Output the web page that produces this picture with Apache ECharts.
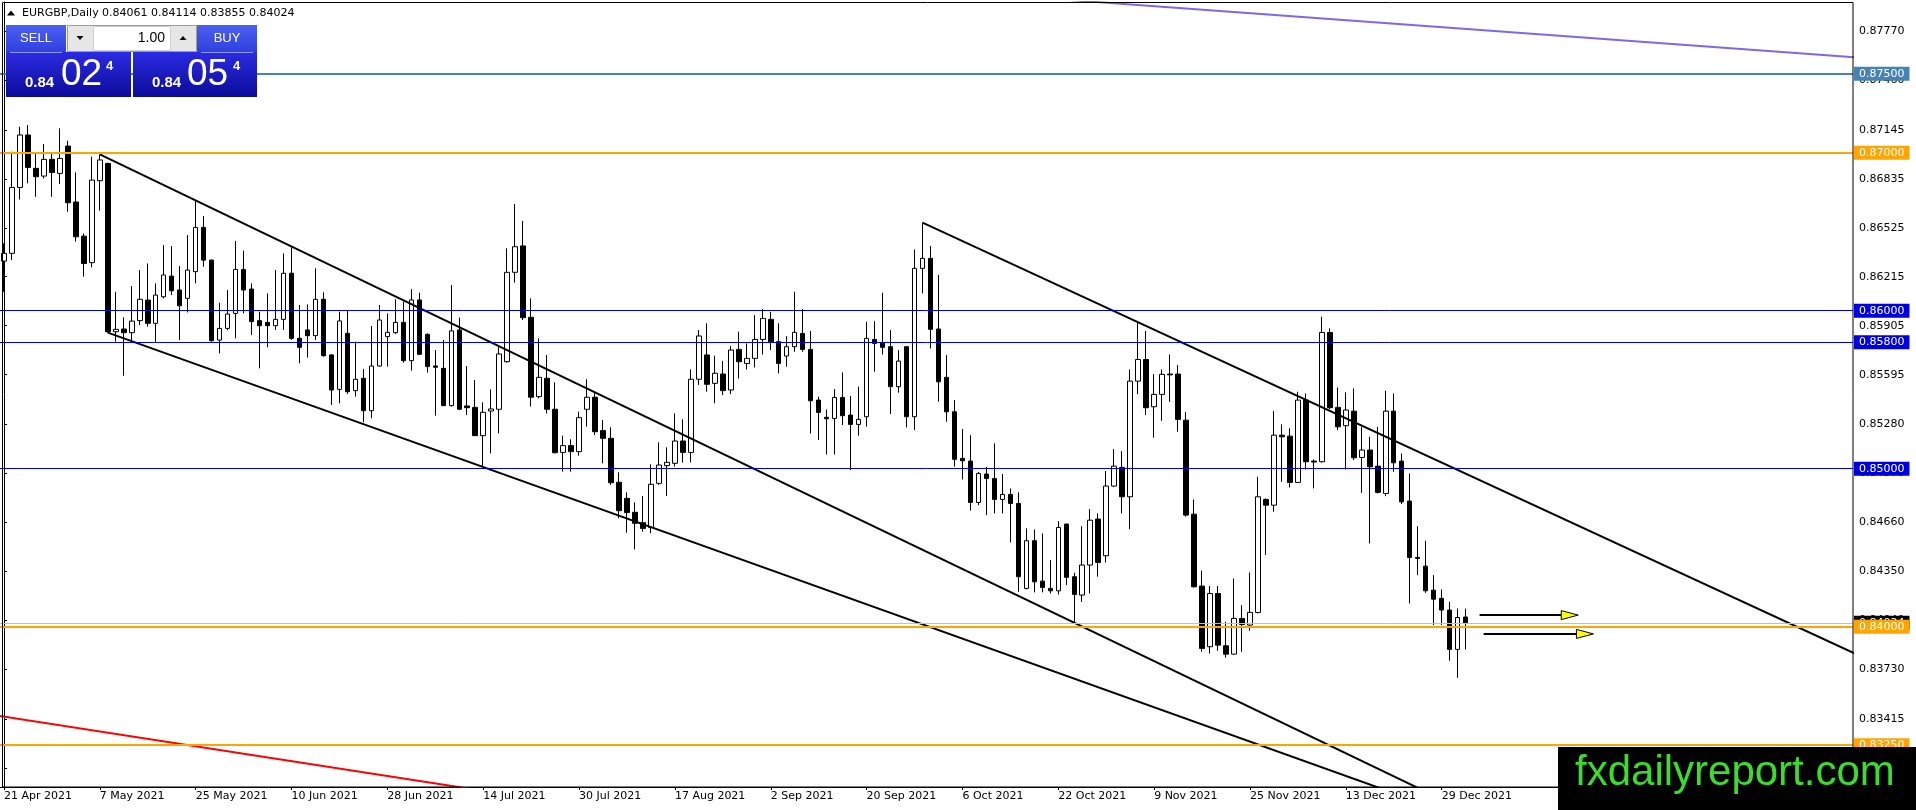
<!DOCTYPE html>
<html><head><meta charset="utf-8">
<script src="https://cdn.jsdelivr.net/npm/echarts@6/dist/echarts.min.js"></script>
<style>html,body{margin:0;padding:0;background:#fff;overflow:hidden}#c{width:1916px;height:810px}</style>
</head><body><div id="c"></div>
<script>
// ---------- DATA ----------
const symbolName = 'EURGBP,Daily';
const headerOHLC = ['0.84061', '0.84114', '0.83855', '0.84024'];
const firstBarDate = '2021-04-21';
const slotCount = 232;          // bars + empty space on the right (chart shift)
const labelEvery = 12;

const opens = [
.86314,.86363,.86780,.87112,.86901,.86852,.86958,.86869,.87042,.86688,.86472,.86304,.86823,.86932,.85867,.85884,.85861,.85937,.86067,.85920,
.86088,.86219,.86131,.86078,.86247,.86527,.86320,.85814,.85888,.85983,.86261,.86137,.85937,.85926,.85905,.85945,.86237,.85825,.85878,.85842,
.86072,.85720,.85502,.85857,.85494,.85572,.85367,.85650,.85836,.85861,.85926,.85684,.86068,.85850,.85650,.85635,.85399,.85878,.85397,.85388,
.85209,.85365,.85376,.85677,.86243,.86410,.85958,.85456,.85572,.85376,.85103,.85146,.85108,.85376,.85452,.85241,.85192,.84914,.84812,.84724,
.84658,.84627,.84907,.85019,.85034,.85175,.85103,.85566,.85720,.85540,.85599,.85498,.85755,.85666,.85698,.85818,.85945,.85804,.85713,.85772,
.85856,.85755,.85434,.85325,.85318,.85451,.85339,.85280,.85329,.85818,.85797,.85772,.85519,.85772,.85329,.86268,.86331,.85884,.85578,.85360,
.85065,.85048,.84786,.84966,.84938,.84805,.84837,.84780,.84242,.84544,.84288,.84242,.84227,.84649,.84316,.84200,.84390,.84681,.84449,.84890,
.85008,.84822,.85554,.85691,.85392,.85470,.85599,.85599,.85307,.84712,.84257,.83873,.84210,.83879,.83826,.84052,.84010,.84090,.84805,.84769,
.85212,.85206,.84913,.85434,.85048,.85044,.85862,.85388,.85272,.85364,.85071,.85118,.85016,.84843,.85364,.85048,.84795,.84438,.84383,.84231,
.84179,.84105,.83856,.84061];
const closes = [
.86363,.86780,.87112,.86907,.86848,.86958,.86875,.86964,.86683,.86468,.86299,.86827,.86954,.85867,.85882,.85861,.85934,.86072,.85920,.86099,
.86226,.86126,.86031,.86257,.86527,.86320,.85810,.85888,.85979,.86261,.86131,.85931,.85905,.85905,.85945,.86237,.85825,.85768,.85842,.86072,
.85715,.85498,.85935,.85487,.85566,.85367,.85650,.85941,.85863,.85926,.85684,.86068,.85724,.85646,.85642,.85399,.85872,.85376,.85386,.85209,
.85357,.85378,.85726,.86243,.86405,.85956,.85452,.85578,.85376,.85101,.85146,.85108,.85323,.85452,.85234,.85192,.84911,.84734,.84722,.84654,
.84622,.84901,.85023,.85040,.85175,.85103,.85566,.85840,.85534,.85604,.85494,.85751,.85677,.85698,.85818,.85951,.85804,.85666,.85772,.85863,
.85755,.85430,.85356,.85316,.85451,.85335,.85280,.85312,.85825,.85793,.85768,.85519,.85681,.85329,.86268,.86331,.85882,.85550,.85360,.85059,
.85050,.84786,.84970,.84938,.84805,.84837,.84780,.84316,.84544,.84284,.84248,.84227,.84628,.84312,.84204,.84390,.84674,.84406,.84890,.85016,
.84822,.85554,.85691,.85386,.85470,.85597,.85594,.85312,.84706,.84252,.83862,.84210,.83883,.83826,.84052,.84014,.84090,.84822,.84769,.85212,
.85202,.84913,.85434,.85044,.85042,.85862,.85386,.85265,.85371,.85069,.85118,.85012,.84850,.85364,.85037,.84790,.84438,.84432,.84227,.84174,
.84105,.83856,.84058,.84024];
const lows = [
.86120,.86320,.86704,.86806,.86721,.86837,.86721,.86802,.86626,.86437,.86215,.86274,.86633,.85861,.85804,.85588,.85814,.85909,.85899,.85799,
.86078,.86099,.85814,.85989,.86173,.86278,.85804,.85730,.85877,.85825,.85983,.85846,.85635,.85768,.85878,.85878,.85815,.85667,.85703,.85815,
.85709,.85403,.85414,.85473,.85456,.85293,.85319,.85646,.85646,.85853,.85671,.85620,.85720,.85608,.85336,.85397,.85393,.85371,.85340,.85207,
.85013,.85097,.85224,.85671,.86177,.85941,.85393,.85445,.85350,.85097,.84981,.84981,.85082,.85266,.85213,.85034,.84897,.84686,.84595,.84489,
.84601,.84591,.84897,.84827,.85013,.85038,.85040,.85530,.85487,.85414,.85466,.85472,.85571,.85628,.85641,.85723,.85751,.85603,.85645,.85740,
.85740,.85223,.85181,.85090,.85090,.85276,.84991,.85209,.85266,.85614,.85723,.85346,.85481,.85261,.85244,.86110,.85761,.85424,.85297,.85012,
.84932,.84734,.84769,.84706,.84717,.84717,.84533,.84221,.84236,.84217,.84217,.84210,.84204,.84263,.84025,.84157,.84210,.84316,.84406,.84885,
.84717,.84617,.85472,.85339,.85196,.85303,.85423,.85234,.84696,.84248,.83841,.83830,.83847,.83803,.83824,.83841,.83974,.84084,.84453,.84727,
.84917,.84881,.84911,.84995,.84875,.85039,.85377,.85244,.84995,.85054,.84847,.84527,.84843,.84826,.84980,.84776,.84147,.84326,.84214,.84010,
.84010,.83784,.83676,.83855];
const highs = [
.86426,.87006,.87164,.87175,.86996,.87055,.86996,.87154,.87076,.86875,.86489,.86975,.86989,.86937,.86120,.85958,.86156,.86257,.86299,.86173,
.86415,.86409,.86283,.86479,.86700,.86599,.86325,.86050,.86131,.86441,.86380,.86173,.85994,.86110,.86258,.86363,.86405,.86036,.86040,.86268,
.86116,.85724,.85994,.86004,.85804,.85631,.85903,.86036,.85983,.86072,.86057,.86137,.86114,.85857,.85751,.85815,.86163,.85956,.85650,.85561,
.85420,.85502,.85783,.86395,.86675,.86568,.86078,.85825,.85720,.85547,.85209,.85186,.85361,.85566,.85487,.85308,.85262,.84977,.84850,.84787,
.84827,.85028,.85167,.85135,.85350,.85312,.85629,.85878,.85920,.85715,.85682,.85776,.85867,.85793,.85972,.86010,.85993,.85920,.85839,.86120,
.86010,.85871,.85455,.85375,.85504,.85609,.85460,.85519,.85930,.85934,.86114,.85877,.85751,.85776,.86388,.86557,.86409,.86226,.85719,.85434,
.85251,.85212,.84980,.85012,.85160,.84966,.84875,.84850,.84622,.84615,.84590,.84421,.84668,.84653,.84341,.84636,.84744,.84717,.84985,.85124,
.85111,.85628,.85924,.85871,.85599,.85628,.85723,.85656,.85360,.84805,.84354,.84257,.84257,.84031,.84305,.84136,.84343,.84949,.84812,.85364,
.85280,.85255,.85487,.85476,.85058,.85962,.85888,.85514,.85483,.85508,.85265,.85202,.85265,.85493,.85476,.85096,.84970,.84636,.84544,.84326,
.84236,.84157,.84115,.84114];

// price axis tick labels (as printed on the right scale)
const yTickLabels = [0.87770,0.87460,0.87145,0.86835,0.86525,0.86215,0.85905,0.85595,0.85280,0.84970,0.84660,0.84350,0.84040,0.83730,0.83415,0.83105];
const priceMin = 0.82985, priceMax = 0.87954;

// horizontal levels
const levelValues = [0.87500, 0.87000, 0.86000, 0.85800, 0.85000, 0.84000, 0.83250];
const bidPrice = 0.84024;

// trend lines: [barIndex, price] end points
const trendUpperChannel = [[12, 0.86989], [200, 0.82421]];
const trendLowerChannel = [[13, 0.85861], [200, 0.82476]];
const trendSepResist   = [[115, 0.86557], [240, 0.83637]];
const trendTopViolet   = [[120, 0.88016], [240, 0.87573]];
const trendBottomRed   = [[-5, 0.83470], [80, 0.82804]];
// arrows: [fromBar, toBar, price]
const arrows = [[184.75, 197.1, 0.84073], [185.25, 199.0, 0.83954]];

// ---------- STYLE ----------
const levelColors = ['#4682B4', '#FFA500', '#0000DD', '#0000DD', '#0000DD', '#FFA500', '#FFA500'];
const levelWidths = [2, 2, 1, 1, 1, 2, 2];
const AX_FONT = 'DejaVu Sans';

const MONTHS = ['Jan','Feb','Mar','Apr','May','Jun','Jul','Aug','Sep','Oct','Nov','Dec'];
function tradingDays(startISO, count) {
  const out = [];
  const d = new Date(startISO + 'T00:00:00Z');
  while (out.length < count) {
    const wd = d.getUTCDay();
    if (wd !== 0 && wd !== 6) out.push(d.getUTCDate() + ' ' + MONTHS[d.getUTCMonth()] + ' ' + d.getUTCFullYear());
    d.setUTCDate(d.getUTCDate() + 1);
  }
  return out;
}
const nBars = opens.length;
const dates = tradingDays(firstBarDate, nBars);
const categories = dates.concat(new Array(slotCount - nBars).fill(''));
const candleData = opens.map((o, i) => [o, closes[i], lows[i], highs[i]]);
const showLabel = (idx) => idx % labelEvery === 0 && idx < nBars;

function lvlLabel(color, textColor) {
  return {
    show: true, position: 'end', distance: 1,
    formatter: p => Number(p.value).toFixed(5),
    backgroundColor: color, color: textColor, padding: [2, 5, 1, 5],
    fontFamily: AX_FONT, fontSize: 11
  };
}
const markData = [{
  yAxis: bidPrice, lineStyle: {color: '#C0C0C0', width: 1, type: 'solid'},
  label: lvlLabel('#000000', '#ffffff')
}].concat(levelValues.map((v, i) => ({
  yAxis: v, lineStyle: {color: levelColors[i], width: levelWidths[i], type: 'solid'},
  label: lvlLabel(levelColors[i], '#ffffff')
})));

function trendSeries(data, color) {
  return {type: 'line', xAxisIndex: 1, data: data, symbol: 'none', silent: true,
    lineStyle: {color: color, width: 2}, clip: true, z: 4, animation: false};
}

const grad = (a, b) => new echarts.graphic.LinearGradient(0, 0, 0, 1, [{offset: 0, color: a}, {offset: 1, color: b}]);
const T = (x, y, text, font, fill, align, valign) => ({
  type: 'text', x: x, y: y, z: 102, silent: true,
  style: {text: text, font: font, fill: fill, align: align || 'left', textAlign: align || 'left',
    verticalAlign: valign || 'middle', textVerticalAlign: valign || 'middle'}
});

const graphics = [
  // plot frame
  {type: 'rect', z: 50, silent: true, shape: {x: 2.5, y: 2.5, width: 1850.5, height: 784.5},
    style: {fill: 'none', stroke: '#000', lineWidth: 1}},
  // header
  {type: 'polygon', z: 102, silent: true, shape: {points: [[7, 15.5], [11, 10.5], [15, 15.5]]}, style: {fill: '#000'}},
  T(22, 13, symbolName, '11px "DejaVu Sans"', '#000'),
  T(102, 13, headerOHLC.join(' '), '11px "DejaVu Sans"', '#000'),
  // trade panel
  {type: 'rect', z: 100, silent: true, shape: {x: 6, y: 25, width: 60, height: 27}, style: {fill: grad('#4d5ff2', '#3040de')}},
  {type: 'rect', z: 100, silent: true, shape: {x: 6, y: 52, width: 125, height: 45}, style: {fill: grad('#2b2be3', '#0b0b99')}},
  {type: 'rect', z: 100, silent: true, shape: {x: 197, y: 25, width: 60, height: 27}, style: {fill: grad('#4d5ff2', '#3040de')}},
  {type: 'rect', z: 100, silent: true, shape: {x: 133, y: 52, width: 124, height: 45}, style: {fill: grad('#2b2be3', '#0b0b99')}},
  {type: 'line', z: 101, silent: true, shape: {x1: 10, y1: 52.5, x2: 62, y2: 52.5}, style: {stroke: '#8a98f6', lineWidth: 1}},
  {type: 'line', z: 101, silent: true, shape: {x1: 201, y1: 52.5, x2: 253, y2: 52.5}, style: {stroke: '#8a98f6', lineWidth: 1}},
  {type: 'rect', z: 100, silent: true, shape: {x: 67.5, y: 25.5, width: 129, height: 26}, style: {fill: '#e6e6e6', stroke: '#9c9c9c', lineWidth: 1}},
  {type: 'rect', z: 101, silent: true, shape: {x: 93.5, y: 26.5, width: 77, height: 24}, style: {fill: '#ffffff', stroke: '#cfcfcf', lineWidth: 1}},
  {type: 'polygon', z: 102, silent: true, shape: {points: [[76.5, 36], [83.5, 36], [80, 40]]}, style: {fill: '#000'}},
  {type: 'polygon', z: 102, silent: true, shape: {points: [[179.5, 40], [186.5, 40], [183, 36]]}, style: {fill: '#000'}},
  T(36, 38.5, 'SELL', '13px "Liberation Sans"', '#ffffff', 'center'),
  T(227, 38.5, 'BUY', '13px "Liberation Sans"', '#ffffff', 'center'),
  T(165, 38, '1.00', '14px "Liberation Sans"', '#000000', 'right'),
  T(25, 82.5, '0.84', 'bold 15px "Liberation Sans"', '#ffffff'),
  T(61, 75, '02', '37px "Liberation Sans"', '#ffffff'),
  T(106, 66.5, '4', 'bold 13px "Liberation Sans"', '#ffffff'),
  T(152, 82.5, '0.84', 'bold 15px "Liberation Sans"', '#ffffff'),
  T(187, 75, '05', '37px "Liberation Sans"', '#ffffff'),
  T(233, 66.5, '4', 'bold 13px "Liberation Sans"', '#ffffff'),
  // watermark
  {type: 'rect', z: 110, silent: true, shape: {x: 1558, y: 747, width: 358, height: 63}, style: {fill: '#000'}},
  Object.assign(T(1575, 773, 'fxdailyreport.com', '42px "Liberation Sans"', '#3cdc2c'), {z: 111})
];

const option = {
  animation: false,
  backgroundColor: '#ffffff',
  grid: {left: -1, right: 63, top: 2, bottom: 23, containLabel: false},
  xAxis: [{
    type: 'category', data: categories, boundaryGap: true,
    axisLine: {show: true, lineStyle: {color: '#000', width: 1}},
    axisTick: {show: true, interval: showLabel, alignWithLabel: true, length: 3, lineStyle: {color: '#000'}},
    axisLabel: {interval: showLabel, align: 'left', margin: 4, color: '#000', fontFamily: AX_FONT, fontSize: 11},
    splitLine: {show: false}
  }, {
    type: 'value', min: -0.5, max: slotCount - 0.5, show: false
  }],
  yAxis: {
    type: 'value', position: 'right', min: priceMin, max: priceMax,
    axisLine: {show: true, lineStyle: {color: '#000', width: 1}},
    axisTick: {show: true, customValues: yTickLabels, length: 3, inside: false, lineStyle: {color: '#000'}},
    axisLabel: {show: true, customValues: yTickLabels, formatter: v => Number(v).toFixed(5),
      margin: 6, color: '#000', fontFamily: AX_FONT, fontSize: 11},
    splitLine: {show: false}
  },
  series: [{
    type: 'candlestick', data: candleData, barWidth: 5, silent: true,
    itemStyle: {color: '#ffffff', color0: '#000000', borderColor: '#000000', borderColor0: '#000000', borderWidth: 1},
    markLine: {silent: true, symbol: 'none', animation: false, precision: 5, data: markData, z: 5}
  },
  trendSeries(trendUpperChannel, '#000000'),
  trendSeries(trendLowerChannel, '#000000'),
  trendSeries(trendSepResist, '#000000'),
  trendSeries(trendTopViolet, '#7B68EE'),
  trendSeries(trendBottomRed, '#FF0000'),
  {
    type: 'custom', xAxisIndex: 1, data: arrows, silent: true, z: 6,
    dimensions: ['x1', 'x2', 'p'], encode: {x: [0, 1], y: [2]},
    renderItem: function (params, api) {
      const a = api.coord([api.value(0), api.value(2)]);
      const b = api.coord([api.value(1), api.value(2)]);
      const hl = 17, hw = 4.5;
      return {type: 'group', children: [
        {type: 'line', shape: {x1: a[0], y1: a[1], x2: b[0] - hl, y2: b[1]}, style: {stroke: '#000', lineWidth: 2}},
        {type: 'polygon', shape: {points: [[b[0] - hl, b[1] - hw], [b[0], b[1]], [b[0] - hl, b[1] + hw]]},
          style: {fill: '#ffff00', stroke: '#000', lineWidth: 1}}
      ]};
    }
  }],
  graphic: graphics
};

const chart = echarts.init(document.getElementById('c'));
chart.setOption(option);
</script>
</body></html>
